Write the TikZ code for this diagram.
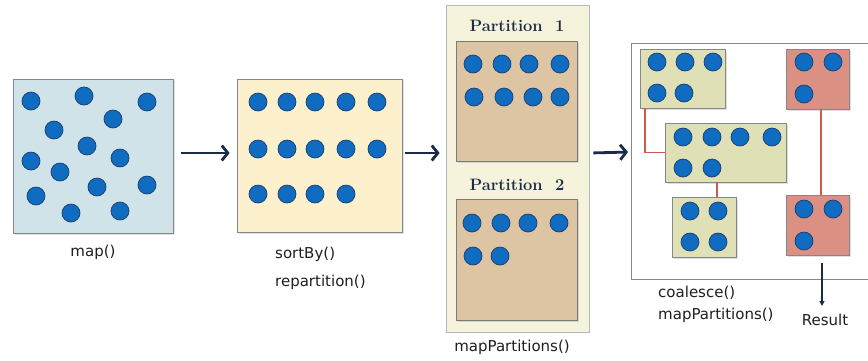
\documentclass[tikz,border=0pt]{standalone}
\usepackage{fontspec}
\newfontfamily\lblfont{DejaVu Sans}
\usetikzlibrary{arrows.meta,shadows}

\definecolor{dotblue}{HTML}{0F6CC0}
\definecolor{dotedge}{HTML}{1B3C6E}
\definecolor{navy}{HTML}{1A2B45}
\definecolor{mapfill}{HTML}{CFE3E9}
\definecolor{sortfill}{HTML}{FDF1CD}
\definecolor{partpanel}{HTML}{F6F3DD}
\definecolor{partfill}{HTML}{DDC4A3}
\definecolor{greenfill}{HTML}{DFE0B6}
\definecolor{redfill}{HTML}{DA9183}
\definecolor{linkred}{HTML}{C95A4C}
\definecolor{edgegray}{HTML}{85888A}
\definecolor{txt}{HTML}{1E1E1E}

\tikzset{
  dot/.style={circle, fill=dotblue, draw=dotedge, line width=0.7pt,
              minimum size=18pt, inner sep=0pt},
  box/.style={draw=edgegray, line width=0.8pt, inner sep=0pt,
              drop shadow={shadow xshift=1.5pt, shadow yshift=-1.5pt, opacity=0.25}},
  flow/.style={draw=navy, line width=2.8pt,
               -{Straight Barb[length=6pt,width=15pt]}},
  link/.style={draw=linkred, line width=1.2pt},
  lbl/.style={font=\lblfont\fontsize{15}{18}\selectfont, text=txt, inner sep=1pt},
  head/.style={font=\bfseries\fontsize{16.5}{19}\selectfont, text=navy, inner sep=1pt},
}

\begin{document}
\begin{tikzpicture}[x=1pt, y=-1pt]
\useasboundingbox (0,0) rectangle (868,360);

% stage 1: map()
\node[box, fill=mapfill, minimum width=160pt, minimum height=154pt] (mapbox) at (93,156) {};
\foreach \x/\y [count=\i] in {31/101, 84/96, 147/102, 113/119, 54/130, 87/146, 31/161,
    120/158, 60/172, 97/187, 147/185, 36/196, 71/213, 120/211}
  \node[dot] (m\i) at (\x,\y) {};
\node[lbl] (maplbl) at (93,252) {map()};

% stage 2: sortBy() / repartition()
\node[box, fill=sortfill, minimum width=165pt, minimum height=153pt] (sortbox) at (319.5,155.5) {};
\foreach \x/\y [count=\i] in {258/102, 287/102, 315/102, 346/102, 377/102,
    258/149, 287/149, 315/149, 346/149, 377/149,
    258/194, 287/194, 315/194, 346/194}
  \node[dot] (s\i) at (\x,\y) {};
\node[lbl, anchor=west] (sortlbl) at (274,254) {sortBy()};
\node[lbl, anchor=west] (replbl) at (274,282) {repartition()};

% stage 3: two partitions
\node[draw=edgegray!60, fill=partpanel, line width=0.8pt, inner sep=0pt,
      minimum width=143pt, minimum height=327pt] (panel) at (517.5,168.5) {};
\node[head] (p1head) at (517,26) {Partition\ \ 1};
\node[box, draw=edgegray!90!black, fill=partfill, minimum width=121pt, minimum height=120pt] (part1) at (516.5,101) {};
\foreach \x/\y [count=\i] in {473/64, 502/64, 529/64, 560/64,
    474/97, 504/97, 533/97, 560/97}
  \node[dot] (pa\i) at (\x,\y) {};
\node[head] (p2head) at (517,185) {Partition\ \ 2};
\node[box, draw=edgegray!90!black, fill=partfill, minimum width=121pt, minimum height=121pt] (part2) at (516.5,259.5) {};
\foreach \x/\y [count=\i] in {472/223, 501/223, 528/223, 559/223,
    473/256, 500/256}
  \node[dot] (pb\i) at (\x,\y) {};
\node[lbl] (mplbl) at (512,347) {mapPartitions()};

% stage 4: coalesced partitions
\draw[edgegray, line width=0.9pt] (870,43) -- (631,43) -- (631,279) -- (870,279);
\coordinate (outleft) at (631,152);

\node[box, fill=greenfill, minimum width=85pt, minimum height=59pt] (ga) at (682.5,78.5) {};
\foreach \x/\y [count=\i] in {657/62, 685/62, 713/62, 657/93, 684/93}
  \node[dot] (ga\i) at (\x,\y) {};
\node[box, fill=greenfill, minimum width=121pt, minimum height=59pt] (gb) at (725.5,152.5) {};
\foreach \x/\y [count=\i] in {683/137, 712/137, 740/137, 772/137, 683/168, 712/168}
  \node[dot] (gb\i) at (\x,\y) {};
\node[box, fill=greenfill, minimum width=64pt, minimum height=60pt] (gc) at (704,227) {};
\foreach \x/\y [count=\i] in {690/211, 718/211, 690/242, 718/242}
  \node[dot] (gc\i) at (\x,\y) {};

\node[box, fill=redfill, minimum width=63pt, minimum height=60pt] (rd) at (817.5,79) {};
\foreach \x/\y [count=\i] in {804/62, 833/62, 804/94}
  \node[dot] (rd\i) at (\x,\y) {};
\node[box, fill=redfill, minimum width=63pt, minimum height=60pt] (re) at (817.5,225) {};
\foreach \x/\y [count=\i] in {804/209, 833/209, 804/241}
  \node[dot] (re\i) at (\x,\y) {};

% links between merged partitions
\coordinate (abx) at (645,0);
\coordinate (bcx) at (717,0);
\coordinate (dex) at (821,0);
\draw[link] (ga.south -| abx) |- (gb.west);
\draw[link] (gb.south -| bcx) -- (gc.north -| bcx);
\draw[link] (rd.south -| dex) -- (re.north -| dex);

\node[lbl, anchor=west] (coallbl) at (657,293) {coalesce()};
\node[lbl, anchor=west] (mp2lbl) at (657,315) {mapPartitions()};
\node[lbl, inner sep=2pt] (result) at (825,320) {Result};
\coordinate (resstart) at (822,263);
\draw[navy, line width=1.2pt, -{Triangle[length=5pt,width=5pt]}, shorten >=6pt]
  (resstart) -- (resstart |- result.north);

% flow arrows between stages
\coordinate (row) at (0,153);
\draw[flow, shorten <=8pt, shorten >=7pt] (mapbox.east |- row) -- (sortbox.west |- row);
\draw[flow, shorten <=3pt, shorten >=6pt] (sortbox.east |- row) -- (panel.west |- row);
\draw[flow, shorten <=4pt, shorten >=3pt] (panel.east |- row) -- (outleft);
\end{tikzpicture}
\end{document}
